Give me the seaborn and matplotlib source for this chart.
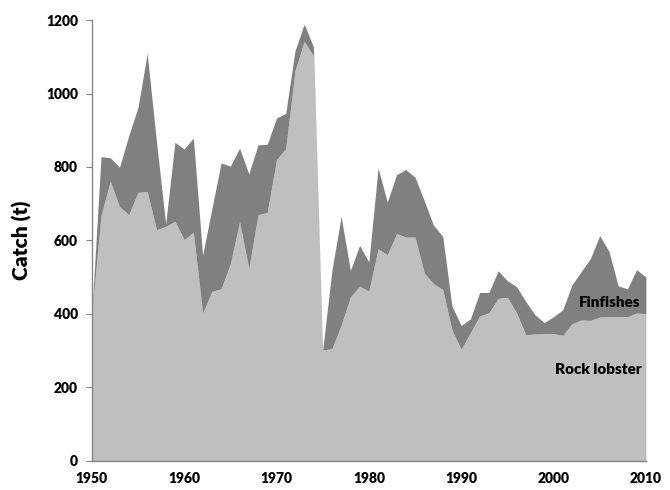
import numpy as np
import matplotlib
matplotlib.use("Agg")
import matplotlib.pyplot as plt
import seaborn as sns
from matplotlib.ticker import MultipleLocator

# Catch by year (t)
years = list(range(1950, 2011))
rock_lobster = [400, 668, 761, 692, 670, 731, 733, 629, 638, 652,
                602, 622, 402, 461, 468, 536, 651, 523, 670, 676,
                820, 850, 1062, 1142, 1103, 301, 305, 369, 446, 475,
                462, 577, 561, 618, 609, 609, 511, 482, 466, 356,
                303, 349, 394, 403, 442, 445, 402, 343, 345, 346,
                346, 341, 373, 383, 382, 391, 392, 392, 392, 402,
                400]
finfishes = [0, 160, 64, 107, 215, 231, 376, 241, 7, 215,
             247, 257, 157, 225, 343, 266, 200, 258, 190, 186,
             113, 96, 54, 47, 24, 0, 213, 296, 72, 111,
             79, 220, 143, 161, 184, 163, 197, 159, 145, 65,
             65, 37, 64, 55, 75, 45, 72, 90, 52, 30,
             46, 70, 106, 132, 169, 222, 178, 84, 76, 118,
             100]
series_names = ["Rock lobster", "Finfishes"]
y_ticks = [0, 200, 400, 600, 800, 1000, 1200]
x_ticks = [1950, 1960, 1970, 1980, 1990, 2000, 2010]

sns.set_style("white")
plt.rcParams["font.family"] = ["Lato", "DejaVu Sans"]
plt.rcParams["text.color"] = "black"
plt.rcParams["xtick.color"] = "black"
plt.rcParams["ytick.color"] = "black"
plt.rcParams["axes.labelcolor"] = "black"

fig = plt.figure(figsize=(6.7, 4.9), dpi=100)
ax = fig.add_axes([0.137, 0.06, 0.827, 0.899])

ax.stackplot(years, rock_lobster, finfishes,
             colors=["#bfbfbf", "#808080"], linewidth=0)

ax.set_xlim(1950, 2010)
ax.set_ylim(0, 1200)
ax.set_yticks(y_ticks)
ax.set_xticks(x_ticks)
ax.xaxis.set_minor_locator(MultipleLocator(0.5))

for side in ["top", "right"]:
    ax.spines[side].set_visible(False)
for side in ["left", "bottom"]:
    ax.spines[side].set_color("#868686")
    ax.spines[side].set_linewidth(1)

ax.tick_params(axis="y", which="major", left=True, direction="out",
               length=4, color="#868686", labelsize=10, pad=6)
ax.tick_params(axis="x", which="major", bottom=False, labelsize=10, pad=5)
ax.tick_params(axis="x", which="minor", bottom=True, direction="in",
               length=3, width=0.6, color="#868686")
for lab in ax.get_xticklabels() + ax.get_yticklabels():
    lab.set_fontweight("heavy")

ax.set_ylabel("Catch (t)", fontsize=15, fontweight="heavy", labelpad=10)

ax.text(2009.4, 432, series_names[1], ha="right", va="center",
        fontsize=11, fontweight="heavy")
ax.text(2009.5, 247, series_names[0], ha="right", va="center",
        fontsize=11, fontweight="heavy")

fig.savefig("out.png", dpi=100)
